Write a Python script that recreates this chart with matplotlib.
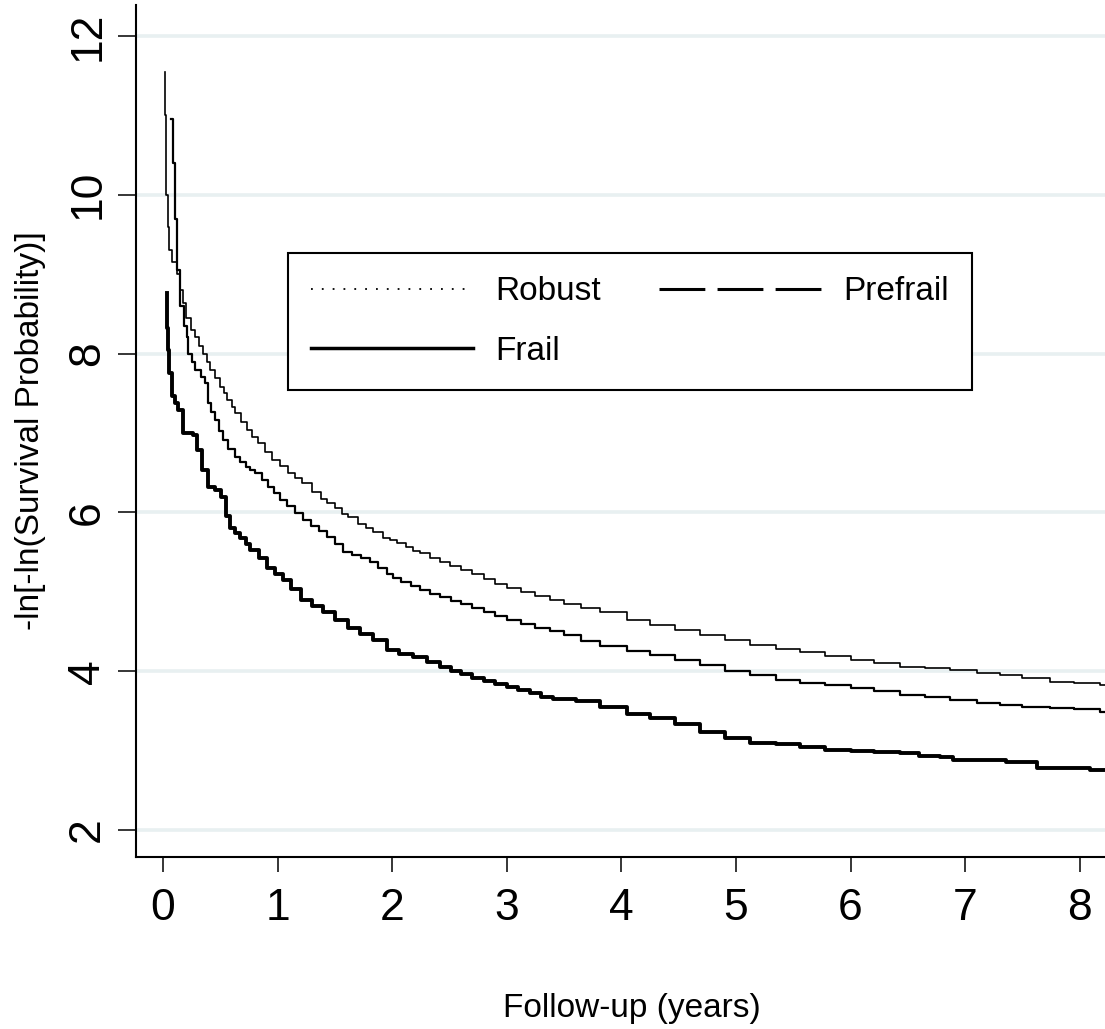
import matplotlib
matplotlib.use("Agg")
import matplotlib.pyplot as plt
from matplotlib.lines import Line2D

plt.rcParams['font.family'] = ['Liberation Sans', 'DejaVu Sans']

# Curvas -ln[-ln(S(t))] (tiempo en años, valor)
robust_t = [0.017, 0.02, 0.025, 0.03, 0.04, 0.05, 0.08, 0.12, 0.15, 0.17, 0.20,
            0.24, 0.28, 0.31, 0.35, 0.38, 0.41, 0.45, 0.50, 0.53, 0.56, 0.60,
            0.63, 0.68, 0.73, 0.78, 0.83, 0.89, 0.95, 1.02, 1.09, 1.15, 1.21,
            1.30, 1.38, 1.43, 1.50, 1.56, 1.61, 1.70, 1.77, 1.83, 1.92, 1.98,
            2.04, 2.12, 2.18, 2.24, 2.33, 2.42, 2.50, 2.60, 2.70, 2.80, 2.90,
            3.00, 3.12, 3.25, 3.38, 3.50, 3.65, 3.81, 4.05, 4.25, 4.47, 4.69,
            4.90, 5.12, 5.35, 5.56, 5.78, 6.00, 6.20, 6.43, 6.65, 6.87, 7.10,
            7.30, 7.50, 7.74, 7.95, 8.18, 8.25]
robust_y = [11.55, 11.0, 10.4, 10.0, 9.6, 9.3, 9.15, 9.0, 8.8, 8.64, 8.45,
            8.3, 8.21, 8.1, 8.0, 7.9, 7.79, 7.69, 7.58, 7.50, 7.42, 7.33,
            7.25, 7.14, 7.04, 6.95, 6.87, 6.76, 6.66, 6.58, 6.50, 6.43, 6.37,
            6.26, 6.17, 6.12, 6.05, 5.98, 5.94, 5.85, 5.80, 5.75, 5.68, 5.65,
            5.61, 5.56, 5.52, 5.49, 5.43, 5.38, 5.33, 5.27, 5.22, 5.16, 5.10,
            5.05, 5.00, 4.95, 4.90, 4.85, 4.80, 4.75, 4.65, 4.58, 4.52, 4.46,
            4.39, 4.33, 4.28, 4.24, 4.19, 4.14, 4.10, 4.05, 4.04, 4.02, 3.98,
            3.95, 3.91, 3.86, 3.85, 3.83, 3.82]

prefrail_t = [0.07, 0.09, 0.10, 0.12, 0.15, 0.18, 0.21, 0.22, 0.25, 0.28, 0.33,
              0.37, 0.39, 0.42, 0.45, 0.49, 0.52, 0.57, 0.63, 0.67, 0.72, 0.76,
              0.80, 0.86, 0.92, 0.97, 1.02, 1.08, 1.15, 1.22, 1.29, 1.36, 1.43,
              1.50, 1.57, 1.65, 1.73, 1.81, 1.88, 1.95, 2.01, 2.08, 2.16, 2.24,
              2.33, 2.42, 2.51, 2.60, 2.70, 2.80, 2.90, 3.00, 3.12, 3.25, 3.38,
              3.50, 3.65, 3.81, 4.05, 4.25, 4.47, 4.69, 4.90, 5.12, 5.35, 5.56,
              5.78, 6.00, 6.20, 6.43, 6.65, 6.87, 7.10, 7.30, 7.50, 7.74, 7.95,
              8.18, 8.25]
prefrail_y = [10.95, 10.4, 9.7, 9.05, 8.6, 8.35, 8.21, 8.0, 7.9, 7.79, 7.70,
              7.63, 7.38, 7.26, 7.16, 7.02, 6.91, 6.80, 6.70, 6.63, 6.57, 6.53,
              6.50, 6.41, 6.32, 6.24, 6.16, 6.08, 5.99, 5.90, 5.83, 5.76, 5.69,
              5.60, 5.50, 5.46, 5.42, 5.38, 5.30, 5.23, 5.17, 5.12, 5.07, 5.02,
              4.97, 4.93, 4.89, 4.85, 4.79, 4.74, 4.69, 4.65, 4.60, 4.54, 4.50,
              4.45, 4.38, 4.32, 4.25, 4.20, 4.14, 4.08, 4.00, 3.95, 3.89, 3.85,
              3.82, 3.79, 3.75, 3.70, 3.67, 3.64, 3.60, 3.57, 3.55, 3.54, 3.52,
              3.49, 3.48]

frail_t = [0.032, 0.035, 0.04, 0.05, 0.076, 0.10, 0.13, 0.17, 0.26, 0.30, 0.34,
           0.39, 0.45, 0.51, 0.55, 0.58, 0.63, 0.67, 0.72, 0.76, 0.84, 0.91,
           0.98, 1.05, 1.12, 1.20, 1.30, 1.40, 1.50, 1.61, 1.72, 1.83, 1.95,
           2.06, 2.18, 2.30, 2.42, 2.51, 2.60, 2.70, 2.80, 2.90, 3.00, 3.10,
           3.20, 3.30, 3.40, 3.60, 3.81, 4.05, 4.25, 4.47, 4.69, 4.90, 5.12,
           5.35, 5.56, 5.78, 6.00, 6.20, 6.43, 6.60, 6.78, 6.89, 7.36, 7.63,
           8.09, 8.25]
frail_y = [8.76, 8.32, 8.05, 7.75, 7.46, 7.38, 7.29, 7.0, 6.97, 6.79, 6.53,
           6.32, 6.28, 6.19, 5.95, 5.80, 5.74, 5.68, 5.60, 5.53, 5.42, 5.30,
           5.22, 5.15, 5.03, 4.90, 4.82, 4.75, 4.65, 4.54, 4.47, 4.39, 4.27,
           4.22, 4.18, 4.11, 4.05, 4.00, 3.96, 3.92, 3.88, 3.84, 3.80, 3.76,
           3.72, 3.68, 3.65, 3.62, 3.55, 3.46, 3.41, 3.33, 3.23, 3.16, 3.10,
           3.08, 3.05, 3.01, 2.99, 2.98, 2.97, 2.93, 2.92, 2.88, 2.86, 2.78,
           2.76, 2.75]

etiquetas = ['Robust', 'Prefrail', 'Frail']
x_ticks = [0, 1, 2, 3, 4, 5, 6, 7, 8]
y_ticks = [2, 4, 6, 8, 10, 12]

fig = plt.figure(figsize=(11.05, 10.29), dpi=100)
ax = fig.add_axes([136 / 1105, 1 - 857 / 1029, 969 / 1105, 852 / 1029])

ax.plot(robust_t, robust_y, drawstyle='steps-post', color='black', lw=1.2)
ax.plot(prefrail_t, prefrail_y, drawstyle='steps-post', color='black', lw=1.6)
ax.plot(frail_t, frail_y, drawstyle='steps-post', color='black', lw=2.8)

# Ejes y cuadrícula
ax.set_xlim(-0.236, 8.22)
ax.set_ylim(1.66, 12.39)
ax.set_xticks(x_ticks)
ax.set_yticks(y_ticks)
ax.yaxis.grid(True, color='#e8f0f1', lw=2.6)
ax.set_axisbelow(True)
for s in ['top', 'right']:
    ax.spines[s].set_visible(False)
for s in ['left', 'bottom']:
    ax.spines[s].set_linewidth(1.5)
ax.tick_params(axis='x', length=11, width=1.1, pad=11, labelsize=32)
ax.tick_params(axis='y', length=13, width=1.1, pad=7, labelsize=32, labelrotation=90)
for lab in ax.get_yticklabels():
    lab.set_va('center')

ax.set_xlabel('Follow-up (years)', fontsize=24)
ax.xaxis.set_label_coords(0.512, -0.160)
ax.set_ylabel('-ln[-ln(Survival Probability)]', fontsize=24)
ax.yaxis.set_label_coords(-0.093, 0.5)

# Leyenda con muestras de estilo
h_rob = Line2D([], [], color='black', lw=1.3, ls=(0, (1, 5)))
h_pre = Line2D([], [], color='black', lw=2.2, ls=(0, (15, 4)))
h_fra = Line2D([], [], color='black', lw=2.5)
leg = ax.legend([h_rob, h_fra, h_pre], [etiquetas[0], etiquetas[2], etiquetas[1]],
                ncol=2, loc='upper left', bbox_to_anchor=(0.157, 0.709),
                borderaxespad=0, fontsize=24, handlelength=4.85,
                handletextpad=0.67, columnspacing=1.75, labelspacing=0.85,
                borderpad=0.7, fancybox=False, framealpha=1, edgecolor='black')
leg.get_frame().set_linewidth(1.5)

fig.savefig('out.png', dpi=100)
